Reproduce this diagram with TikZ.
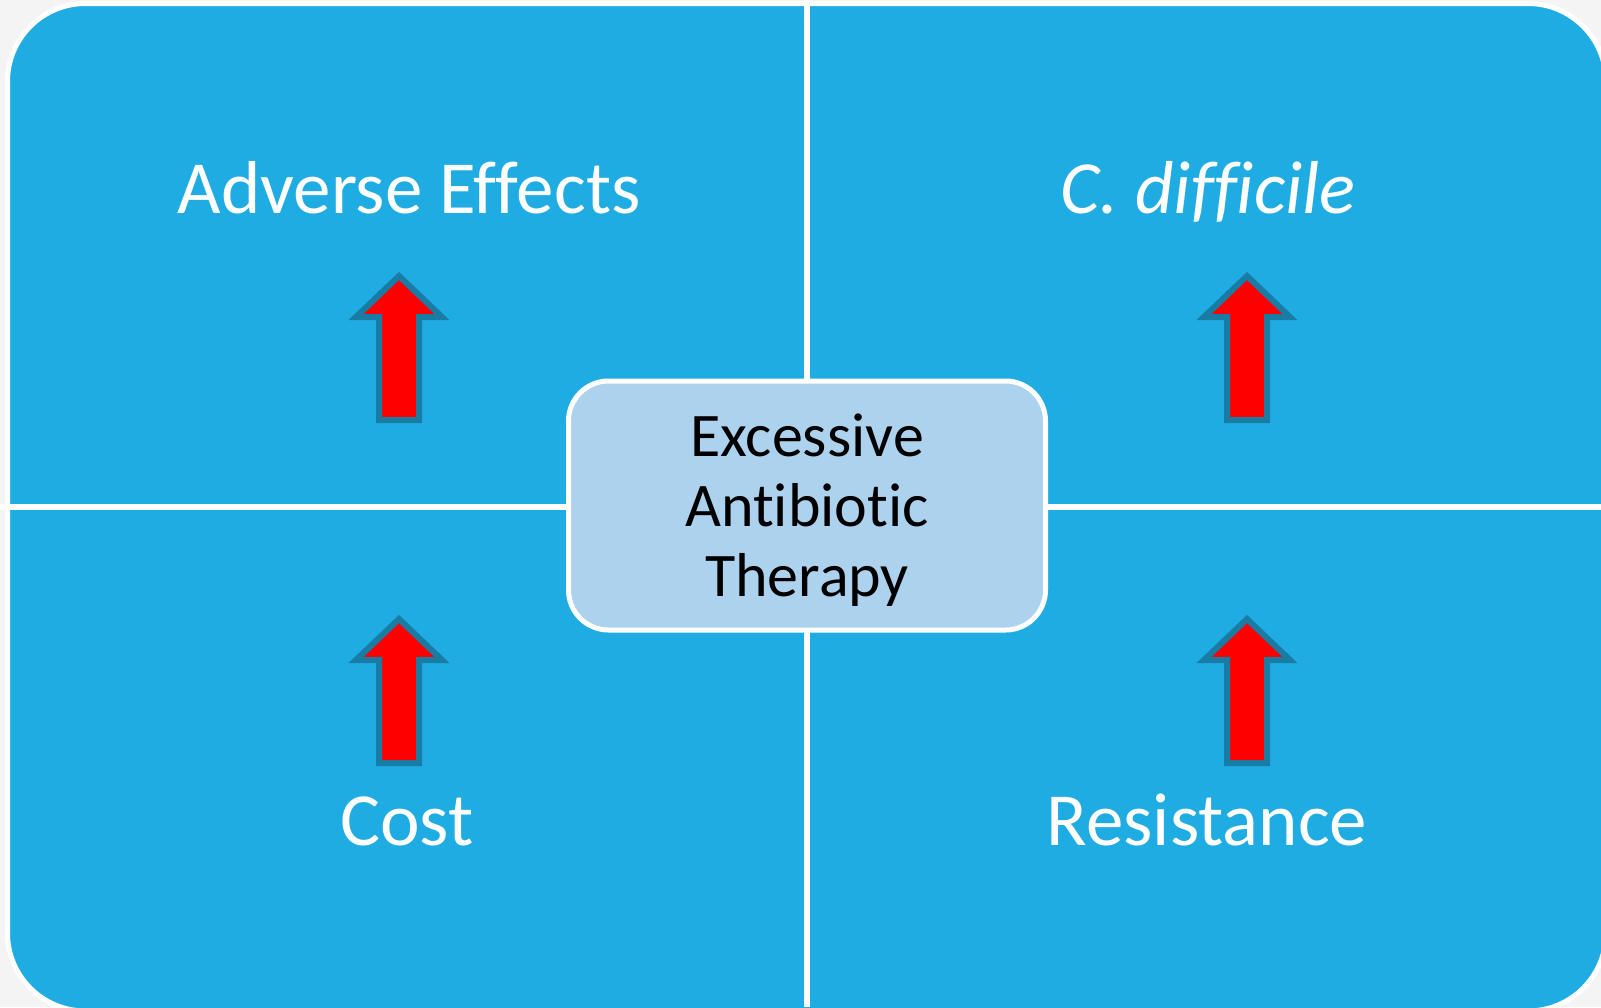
\documentclass[tikz,border=0pt]{standalone}
\usepackage{fontspec}
\setmainfont[Ligatures={NoCommon}]{Carlito}
\definecolor{quadblue}{RGB}{31,172,227}
\definecolor{boxblue}{RGB}{172,210,238}
\definecolor{arrowedge}{RGB}{24,124,165}
\definecolor{bggray}{RGB}{244,244,244}
\tikzset{
  quadlabel/.style={text=white, font=\fontsize{75}{90}\selectfont, anchor=base, inner sep=0pt},
  centerbox/.style={draw=white, line width=5pt, fill=boxblue, rounded corners=40pt,
     minimum width=477pt, minimum height=249pt, inner sep=0pt},
  centertext/.style={align=center, inner sep=0pt,
     font=\fontsize{62}{70}\selectfont, text=black},
  uparrow/.style={fill=red, draw=arrowedge, line width=6pt, line join=miter},
  divider/.style={white, line width=6pt}
}
\newcommand{\uparr}[2]{%
  \path[uparrow] (#1,#2+4) -- (#1+43,#2+45) -- (#1+20,#2+45) -- (#1+20,#2+148)
     -- (#1-20,#2+148) -- (#1-20,#2+45) -- (#1-43,#2+45) -- cycle;}
\begin{document}
\begin{tikzpicture}[x=1pt,y=-1pt]
\useasboundingbox (0,0) rectangle (1601,1007);
\fill[bggray] (0,0) rectangle (1601,1007);
\begin{scope}
\clip (0,0) rectangle (1601,1007);
\draw[white, line width=5pt, fill=quadblue, rounded corners=78pt] (7.5,3.5) rectangle (1606,1011);
\draw[divider] (807,0) -- (807,1007);
\draw[divider] (0,507) -- (1601,507);
\end{scope}
\uparr{399}{272}
\uparr{1247}{272}
\uparr{399}{615}
\uparr{1247}{615}
\node[quadlabel] (adverse) at (409,213) {Adverse Effects};
\node[quadlabel] (cdiff) at (1208,213) {\itshape C. difficile};
\node[quadlabel] (cost) at (407,845) {Cost};
\node[quadlabel] (resist) at (1207,845) {Resistance};
\node[centerbox] (center) at (807,505.5) {};
\node[centertext] (centerlabel) at (807,510) {Excessive\\Antibiotic\\Therapy};
\end{tikzpicture}
\end{document}
